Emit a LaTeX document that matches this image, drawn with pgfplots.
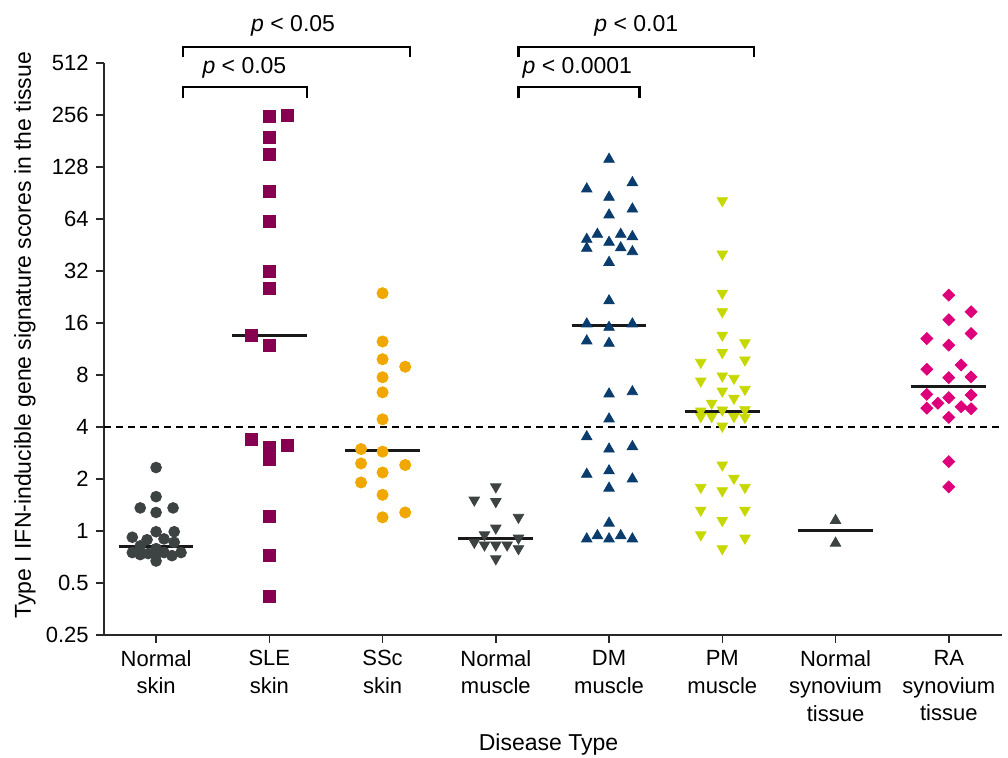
\documentclass[border=0pt]{standalone}
\usepackage{fontspec}
\setmainfont{Liberation Sans}
\usepackage{pgfplots}
\pgfplotsset{compat=1.18}
\definecolor{cgray}{RGB}{61,66,66}
\definecolor{cSLE}{RGB}{135,0,80}
\definecolor{cSSc}{RGB}{240,168,0}
\definecolor{cDM}{RGB}{10,60,110}
\definecolor{cPM}{RGB}{198,216,0}
\definecolor{cRA}{RGB}{222,0,122}
\definecolor{caxis}{RGB}{40,40,40}
\begin{document}
\begin{tikzpicture}[x=1pt,y=1pt]
\useasboundingbox (0,0) rectangle (504,379);
\begin{axis}[
  at={(52pt,61.5pt)}, anchor=south west,
  scale only axis, width=449pt, height=286pt,
  xmin=-0.46, xmax=7.47,
  ymode=log, log basis y=2, ymin=0.25, ymax=512,
  ytick={0.25,0.5,1,2,4,8,16,32,64,128,256,512},
  yticklabels={0.25,0.5,1,2,4,8,16,32,64,128,256,512},
  yminorticks=false,
  xtick={0,1,2,3,4,5,6,7},
  xticklabels={Normal\\skin,SLE\\skin,SSc\\skin,Normal\\muscle,DM\\muscle,PM\\muscle,Normal\\synovium\\tissue,RA\\synovium\\tissue},
  xticklabel style={align=center, anchor=north, inner sep=0pt, yshift=-3.5pt, font=\fontsize{11}{13.8}\selectfont},
  yticklabel style={anchor=east, inner sep=0pt, xshift=-3.5pt, font=\fontsize{11}{13.8}\selectfont},
  axis x line=bottom, axis y line=left,
  axis line style={-, line width=1pt, color=caxis},
  tick align=outside, major tick length=4pt,
  tick style={line width=0.8pt, color=caxis},
  clip=false,
  xlabel={Disease Type},
  xlabel style={at={(axis description cs:0.495,0)}, anchor=base, yshift=-58pt, font=\fontsize{11.5}{13.8}\selectfont},
  ylabel={Type I IFN-inducible gene signature scores in the tissue},
  ylabel style={at={(axis description cs:-0.088,0.524)}, anchor=center, font=\fontsize{11.5}{13.8}\selectfont},
]
% threshold
\addplot[black, line width=0.75pt, dash pattern=on 3.5pt off 2.5pt] coordinates {(-0.46,4) (7.47,4)};
% Normal skin
\addplot[only marks, mark=*, mark size=2.7pt, color=cgray] coordinates {
(0,2.33)(0,1.58)(-0.14,1.36)(0.15,1.36)(0,1.28)(0,0.99)(0.16,0.99)(-0.21,0.92)(-0.08,0.89)(0.07,0.90)(0.16,0.86)(-0.14,0.82)(0,0.79)(-0.21,0.75)(-0.14,0.73)(-0.07,0.74)(0,0.73)(0.07,0.75)(0.14,0.72)(0.22,0.75)(0,0.67)};
% SLE skin
\addplot[only marks, mark=square*, mark size=3pt, color=cSLE] coordinates {
(1,252.6)(1.156,253.6)(1,190)(1,152)(1,92)(1,62.3)(1,32)(1,25.3)(0.845,13.6)(1,11.9)(0.845,3.39)(1,3.05)(1,2.6)(1.156,3.14)(1,1.22)(1,0.72)(1,0.42)};
% SSc skin
\addplot[only marks, mark=*, mark size=2.8pt, color=cSSc] coordinates {
(2,23.8)(2,12.5)(2,9.87)(2.2,8.93)(2,7.76)(2,6.35)(2,4.43)(1.81,2.98)(2,2.88)(1.81,2.46)(2.2,2.41)(2,2.18)(1.81,1.91)(2,1.62)(2.2,1.28)(2,1.2)};
% Normal muscle
\addplot[only marks, mark=triangle*, mark size=3pt, color=cgray, mark options={rotate=180}] coordinates {
(3,1.80)(2.81,1.51)(3,1.48)(3.2,1.2)(3,1.04)(2.9,0.95)(3.2,0.91)(2.81,0.86)(2.9,0.83)(3,0.83)(3.1,0.83)(3.2,0.79)(3,0.69)};
% DM muscle
\addplot[only marks, mark=triangle*, mark size=3pt, color=cDM] coordinates {
(4,141.9)(3.803,95.5)(4.206,103.9)(4,85.5)(4.206,73.1)(4,67.5)(3.897,52.2)(4.103,52.2)(3.803,48.8)(4.206,50.6)(4,46.9)(3.803,43.3)(4.103,43.6)(4.206,41.4)(4,35.9)(4,21.5)(3.803,15.8)(4,15.1)(4.206,15.8)(3.803,12.6)(4,12.2)(4,6.21)(4.206,6.4)(4,4.45)(3.803,3.51)(4,2.98)(4.206,3.08)(3.803,2.13)(4,2.23)(4.206,2.0)(4,1.77)(4,1.11)(3.803,0.9)(3.897,0.94)(4,0.9)(4.103,0.94)(4.206,0.9)};
% PM muscle
\addplot[only marks, mark=triangle*, mark size=3pt, color=cPM, mark options={rotate=180}] coordinates {
(5,81.7)(5,40.1)(5,23.8)(5,18.6)(5,13.6)(5.2,12.3)(5,10.8)(5.2,9.77)(4.81,9.47)(5,7.9)(5.103,7.66)(4.81,7.38)(5.2,6.61)(5,6.46)(5.103,5.87)(4.906,5.49)(4.81,4.95)(4.81,4.6)(4.906,4.6)(5,5.02)(5,4.05)(5.103,4.6)(5.2,5.04)(5.2,4.55)(5,2.41)(5.103,2.02)(4.81,1.79)(5,1.71)(5.2,1.79)(4.81,1.32)(5.2,1.32)(5,1.15)(4.81,0.95)(5.2,0.91)(5,0.79)};
% Normal synovium
\addplot[only marks, mark=triangle*, mark size=3pt, color=cgray] coordinates {(6,1.15)(6,0.85)};
% RA synovium
\addplot[only marks, mark=square*, mark size=2.1pt, color=cRA, mark options={rotate=45}] coordinates {
(7,23.2)(7.197,18.6)(7,16.7)(7.197,13.9)(6.806,13.0)(7,11.9)(7.109,9.14)(6.806,8.63)(7,7.72)(7.197,7.8)(6.806,6.18)(7,5.91)(7.197,6.13)(6.903,5.49)(6.806,5.14)(7.109,5.24)(7.197,5.1)(7,4.55)(7,2.52)(7,1.8)};
% medians
\addplot[black!90, line width=1.5pt] coordinates {(-0.33,0.81)(0.33,0.81)};
\addplot[black!90, line width=1.5pt] coordinates {(0.67,13.6)(1.33,13.6)};
\addplot[black!90, line width=1.5pt] coordinates {(1.67,2.94)(2.33,2.94)};
\addplot[black!90, line width=1.5pt] coordinates {(2.67,0.9)(3.33,0.9)};
\addplot[black!90, line width=1.5pt] coordinates {(3.67,15.4)(4.33,15.4)};
\addplot[black!90, line width=1.5pt] coordinates {(4.67,4.9)(5.33,4.9)};
\addplot[black!90, line width=1.5pt] coordinates {(5.67,1.0)(6.33,1.0)};
\addplot[black!90, line width=1.5pt] coordinates {(6.67,6.84)(7.33,6.84)};
% significance brackets
\draw[black, line width=1.2pt] (axis cs:0.24,321) -- (axis cs:0.24,372) -- (axis cs:1.33,372) -- (axis cs:1.33,321);
\draw[black, line width=1.2pt] (axis cs:0.24,554) -- (axis cs:0.24,634) -- (axis cs:2.24,634) -- (axis cs:2.24,554);
\draw[black, line width=1.2pt] (axis cs:3.2,321) -- (axis cs:3.2,372) -- (axis cs:4.27,372) -- (axis cs:4.27,321);
\draw[black, line width=1.2pt] (axis cs:3.2,554) -- (axis cs:3.2,634) -- (axis cs:5.28,634) -- (axis cs:5.28,554);
\node[font=\fontsize{11.5}{13.8}\selectfont] at (axis cs:0.78,480) {\textit{p} < 0.05};
\node[font=\fontsize{11.5}{13.8}\selectfont] at (axis cs:1.21,845) {\textit{p} < 0.05};
\node[font=\fontsize{11.5}{13.8}\selectfont] at (axis cs:3.72,480) {\textit{p} < 0.0001};
\node[font=\fontsize{11.5}{13.8}\selectfont] at (axis cs:4.24,845) {\textit{p} < 0.01};
\end{axis}
\end{tikzpicture}
\end{document}
